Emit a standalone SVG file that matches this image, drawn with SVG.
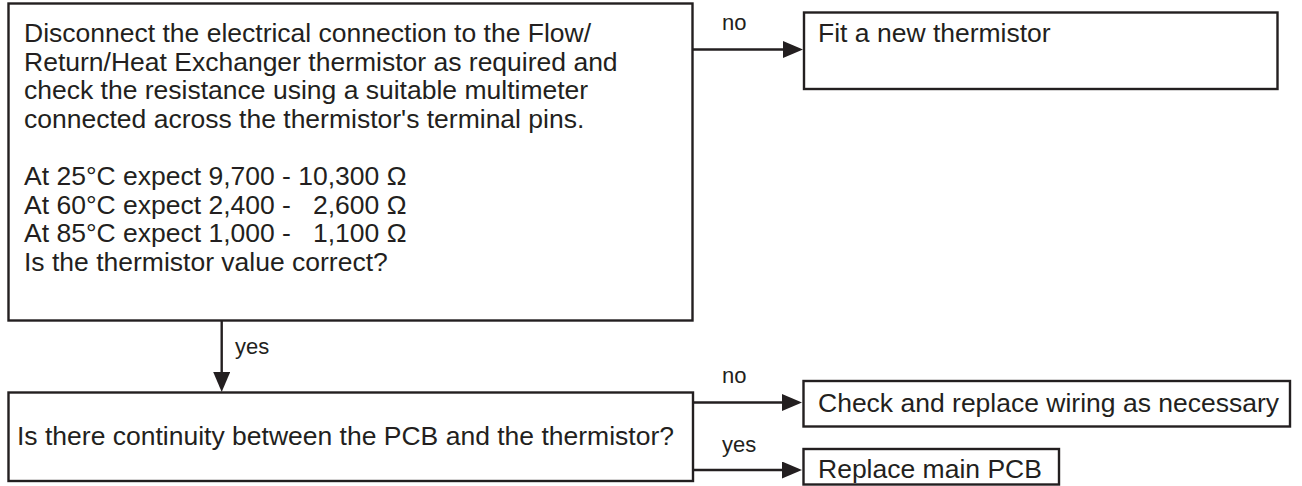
<svg xmlns="http://www.w3.org/2000/svg" width="1302" height="486" viewBox="0 0 1302 486">
<style>
  .box { fill: #ffffff; stroke: #231f20; stroke-width: 2.4; }
  .t { font-family: "Liberation Sans", Arial, sans-serif; font-size: 26.5px; fill: #231f20; }
  .lbl { font-family: "Liberation Sans", Arial, sans-serif; font-size: 22px; fill: #231f20; }
  .conn { fill: none; stroke: #231f20; stroke-width: 2.4; }
</style>
<defs>
  <marker id="arr" viewBox="0 0 20 17" refX="0" refY="8.5" markerWidth="20" markerHeight="17" markerUnits="userSpaceOnUse" orient="auto">
    <path d="M0,0 L20,8.5 L0,17 Z" fill="#231f20"/>
  </marker>
</defs>
<rect width="1302" height="486" fill="#ffffff"/>

<g id="connectors">
  <path class="conn" d="M693,49.5 H783" marker-end="url(#arr)"/>
  <path class="conn" d="M221.7,321 V372" marker-end="url(#arr)"/>
  <path class="conn" d="M693,402.5 H782" marker-end="url(#arr)"/>
  <path class="conn" d="M693,470 H782" marker-end="url(#arr)"/>
  <text class="lbl" x="722" y="30">no</text>
  <text class="lbl" x="235" y="354">yes</text>
  <text class="lbl" x="722" y="383">no</text>
  <text class="lbl" x="722" y="452">yes</text>
</g>

<g id="check-thermistor">
  <rect class="box" x="8.5" y="3.5" width="684" height="317"/>
  <text class="t" x="24" y="42">Disconnect the electrical connection to the Flow/</text>
  <text class="t" x="24" y="70.6">Return/Heat Exchanger thermistor as required and</text>
  <text class="t" x="24" y="99.2">check the resistance using a suitable multimeter</text>
  <text class="t" x="24" y="127.8">connected across the thermistor's terminal pins.</text>
  <text class="t" x="24" y="185">At 25°C expect 9,700 - 10,300 Ω</text>
  <text class="t" x="24" y="213.6">At 60°C expect 2,400 - &#160;&#160;2,600 Ω</text>
  <text class="t" x="24" y="242.2">At 85°C expect 1,000 - &#160;&#160;1,100 Ω</text>
  <text class="t" x="24" y="270.8">Is the thermistor value correct?</text>
</g>

<g id="fit-new-thermistor">
  <rect class="box" x="804" y="12.5" width="473.5" height="76.5"/>
  <text class="t" x="818" y="42">Fit a new thermistor</text>
</g>

<g id="continuity-check">
  <rect class="box" x="8.5" y="392.5" width="684.5" height="88.5"/>
  <text class="t" x="17" y="445">Is there continuity between the PCB and the thermistor?</text>
</g>

<g id="replace-wiring">
  <rect class="box" x="803.5" y="381" width="486.5" height="45.5"/>
  <text class="t" x="818" y="411.5">Check and replace wiring as necessary</text>
</g>

<g id="replace-pcb">
  <rect class="box" x="803.5" y="449" width="255.5" height="35.5"/>
  <text class="t" x="818" y="478">Replace main PCB</text>
</g>
</svg>
